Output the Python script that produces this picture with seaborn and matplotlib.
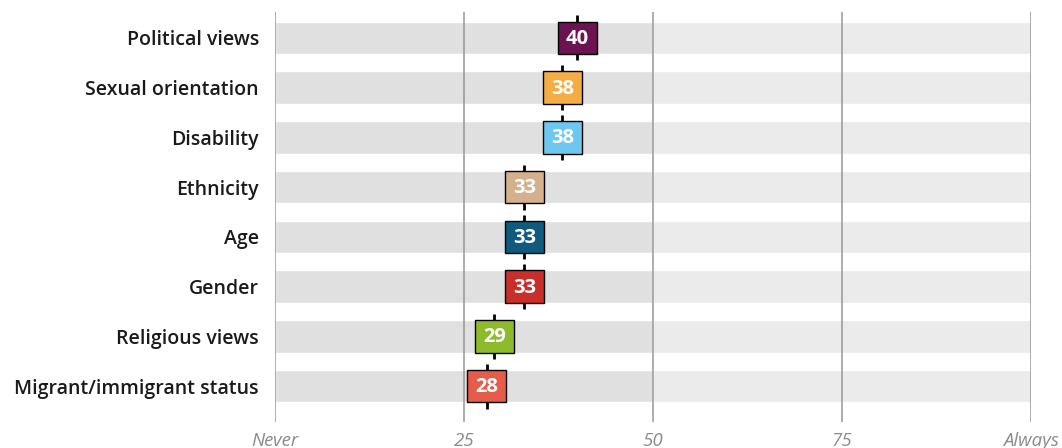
import matplotlib
matplotlib.use("Agg")
import matplotlib.pyplot as plt
from matplotlib import font_manager as fm
import seaborn as sns

categories = ["Political views", "Sexual orientation", "Disability", "Ethnicity",
              "Age", "Gender", "Religious views", "Migrant/immigrant status"]
scores = [40, 38, 38, 33, 33, 33, 29, 28]
box_colors = ["#6c1352", "#f4ac45", "#6ec7ee", "#d4b08d", "#0f5a7d",
              "#c82f2a", "#8dbb2b", "#e65c4b"]
tick_values = [0, 25, 50, 75, 100]
tick_labels = ["Never", "25", "50", "75", "Always"]
scale_max = 100
scale_mid = 50


def pick_font(families, weights, style="normal"):
    """Return FontProperties for the first static, normal-width face found."""
    for fam in families:
        for w in weights:
            for f in fm.fontManager.ttflist:
                fn = f.fname.split("/")[-1].lower()
                if (f.name == fam and f.style == style and f.weight == w
                        and f.stretch == "normal" and "condensed" not in fn
                        and "[" not in fn):
                    return fm.FontProperties(fname=f.fname)
    return fm.FontProperties(family="DejaVu Sans",
                             weight="bold" if weights[0] >= 600 else "normal",
                             style=style)


label_font = pick_font(["Open Sans", "Lato"], [600, 700])
value_font = pick_font(["Open Sans", "Lato"], [700, 600])
tick_font = pick_font(["Open Sans", "Lato"], [400], style="italic")

sns.set_theme(style="white")
plt.rcParams["font.family"] = ["Open Sans", "DejaVu Sans"]

fig = plt.figure(figsize=(10.62, 4.48), dpi=100)
ax = fig.add_axes([275 / 1062, 26 / 448, 756 / 1062, 410 / 448])

bar_h = 0.65

# background track: full scale lighter, first half darker
sns.barplot(x=[scale_max] * len(categories), y=categories, orient="h",
            color="#ebebeb", width=bar_h, saturation=1, ax=ax, zorder=1)
sns.barplot(x=[scale_mid] * len(categories), y=categories, orient="h",
            color="#e0e0e0", width=bar_h, saturation=1, ax=ax, zorder=1)

for t in tick_values:
    ax.axvline(t, color="#969696", lw=1.1, zorder=2)

ypos = range(len(categories))
box_w = 5.1
for y, v, c in zip(ypos, scores, box_colors):
    ax.vlines(v, y - 0.45, y + 0.45, color="black", lw=2, zorder=3)
    ax.barh(y, box_w, left=v - box_w / 2, height=bar_h, color=c,
            edgecolor="black", linewidth=1, zorder=4)
    ax.text(v, y + 0.02, f"{v}", ha="center", va="center", color="white",
            fontproperties=value_font, fontsize=14.5, zorder=5)

ax.set_xlim(0, scale_max)
ax.set_ylim(len(categories) - 1 + 0.72, -0.52)
ax.set_xticks(tick_values)
ax.set_xticklabels(tick_labels, fontproperties=tick_font, color="#8c8c8c", fontsize=13.5)
ax.set_yticks(list(ypos))
ax.set_yticklabels(categories, fontproperties=label_font, fontsize=14, color="#1a1a1a")
ax.tick_params(axis="x", length=0, pad=7)
ax.tick_params(axis="y", length=0, pad=11.5)
ax.set_xlabel("")
ax.set_ylabel("")
for s in ax.spines.values():
    s.set_visible(False)

fig.savefig("out.png", dpi=100)
